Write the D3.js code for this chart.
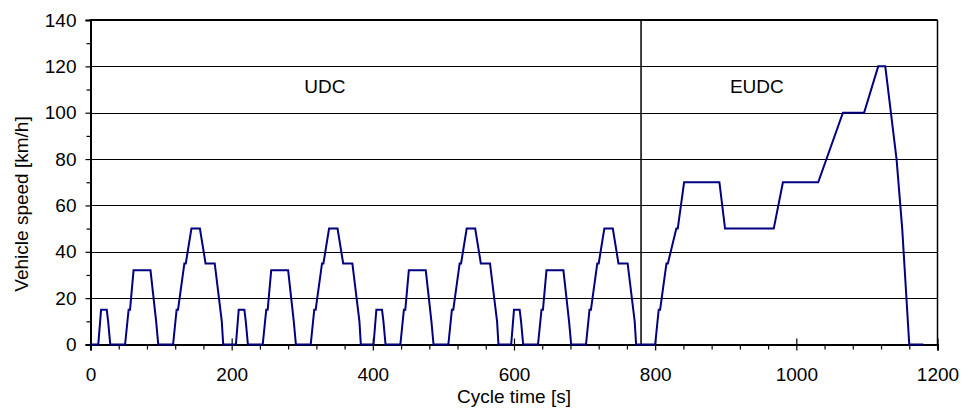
<!DOCTYPE html>
<html>
<head>
<meta charset="utf-8">
<script src="https://cdn.jsdelivr.net/npm/d3@7"></script>
<style>
  body { margin: 0; background: #fff; }
  svg text { font-family: "Liberation Sans", Arial, sans-serif; fill: #000; }
</style>
</head>
<body>
<svg id="chart"></svg>
<script>
// NEDC speed trace, breakpoints (s, km/h)
let times = [
  0, 11, 15, 23, 25, 28, 49, 54, 56, 61, 85, 93, 96, 117, 122, 124, 133, 135, 143, 155, 163, 176, 186, 188,
  195, 206, 210, 218, 220, 223, 244, 249, 251, 256, 280, 288, 291, 312, 317, 319, 328, 330, 338, 350, 358, 371, 381, 383,
  390, 401, 405, 413, 415, 418, 439, 444, 446, 451, 475, 483, 486, 507, 512, 514, 523, 525, 533, 545, 553, 566, 576, 578,
  585, 596, 600, 608, 610, 613, 634, 639, 641, 646, 670, 678, 681, 702, 707, 709, 718, 720, 728, 740, 748, 761, 771, 773,
  780, 800, 805, 807, 816, 818, 830, 832, 841, 891, 899, 968, 981, 1031, 1066, 1096, 1116, 1126, 1142, 1150, 1160, 1180
]
let speeds = [
  0, 0, 15, 15, 10, 0, 0, 15, 15, 32, 32, 10, 0, 0, 15, 15, 35, 35, 50, 50, 35, 35, 10, 0,
  0, 0, 15, 15, 10, 0, 0, 15, 15, 32, 32, 10, 0, 0, 15, 15, 35, 35, 50, 50, 35, 35, 10, 0,
  0, 0, 15, 15, 10, 0, 0, 15, 15, 32, 32, 10, 0, 0, 15, 15, 35, 35, 50, 50, 35, 35, 10, 0,
  0, 0, 15, 15, 10, 0, 0, 15, 15, 32, 32, 10, 0, 0, 15, 15, 35, 35, 50, 50, 35, 35, 10, 0,
  0, 0, 15, 15, 35, 35, 50, 50, 70, 70, 50, 50, 70, 70, 100, 100, 120, 120, 80, 50, 0, 0
]

let xTicks = [0, 200, 400, 600, 800, 1000, 1200]
let xMinor = [40, 80, 120, 160, 240, 280, 320, 360, 440, 480, 520, 560, 640, 680, 720, 760, 840, 880, 920, 960, 1040, 1080, 1120, 1160]
let yTicks = [0, 20, 40, 60, 80, 100, 120, 140]
let yMinor = [10, 30, 50, 70, 90, 110, 130]

let phaseSplit = 780
let phaseLabels = ['UDC', 'EUDC']
let phaseLabelPos = [332, 944]    // seconds (centre of label)
let phaseLabelSpeed = 108.5       // km/h (baseline)

let width = 968
let height = 411
let pLeft = 90.5, pRight = 937.5, pTop = 20, pBottom = 344.5

let svg = d3.select('#chart').attr('width', width).attr('height', height)

let xScale = d3.scaleLinear().domain([0, 1200]).range([pLeft, pRight])
let yScale = d3.scaleLinear().domain([0, 140]).range([pBottom, pTop])

// horizontal grid lines
svg.append('g')
  .selectAll('line')
  .data(yTicks.filter(d => d > 0 && d < 140))
  .enter()
  .append('line')
  .attr('x1', pLeft).attr('x2', pRight)
  .attr('y1', d => Math.round(yScale(d)) + 0.5)
  .attr('y2', d => Math.round(yScale(d)) + 0.5)
  .attr('stroke', '#000').attr('stroke-width', 1)

// frame top + right
svg.append('line').attr('x1', pLeft - 1).attr('x2', pRight).attr('y1', pTop).attr('y2', pTop)
  .attr('stroke', '#000').attr('stroke-width', 2)
svg.append('line').attr('x1', pRight).attr('x2', pRight).attr('y1', pTop).attr('y2', pBottom)
  .attr('stroke', '#000').attr('stroke-width', 1.5)

// UDC / EUDC split
svg.append('line')
  .attr('x1', xScale(phaseSplit)).attr('x2', xScale(phaseSplit))
  .attr('y1', pTop).attr('y2', pBottom)
  .attr('stroke', '#000').attr('stroke-width', 1.5)

svg.selectAll('.phase')
  .data(phaseLabels)
  .enter()
  .append('text')
  .attr('class', 'phase')
  .attr('x', (d, i) => xScale(phaseLabelPos[i]))
  .attr('y', yScale(phaseLabelSpeed))
  .attr('text-anchor', 'middle')
  .style('font-size', '19px')
  .text(d => d)

// axes
let yAxis = d3.axisLeft(yScale).tickValues(yTicks).tickSize(5).tickPadding(9)
  .tickFormat(d3.format('d'))
let gy = svg.append('g').attr('transform', `translate(${pLeft},0)`).call(yAxis)
gy.selectAll('text').style('font-size', '19px')

let yAxisMinor = d3.axisLeft(yScale).tickValues(yMinor).tickSize(4).tickFormat('')
svg.append('g').attr('transform', `translate(${pLeft},0)`).call(yAxisMinor)
  .select('.domain').remove()

let xAxis = d3.axisBottom(xScale).tickValues(xTicks).tickSize(6).tickPadding(17)
  .tickFormat(d3.format('d')) // no thousands comma
let gx = svg.append('g').attr('transform', `translate(0,${pBottom})`).call(xAxis)
gx.selectAll('.tick line').attr('y1', -6)
gx.selectAll('text').style('font-size', '19px')

let xAxisMinor = d3.axisBottom(xScale).tickValues(xMinor).tickSize(5).tickFormat('')
svg.append('g').attr('transform', `translate(0,${pBottom})`).call(xAxisMinor)
  .select('.domain').remove()

svg.selectAll('.domain').attr('stroke-width', 2)
svg.selectAll('.tick line').attr('stroke-width', 1.2)

// speed trace
let points = times.map((t, i) => [t, speeds[i]])
let line = d3.line()
  .x(d => xScale(d[0]))
  .y(d => yScale(d[1]))

svg.append('path')
  .datum(points)
  .attr('d', line)
  .attr('fill', 'none')
  .attr('stroke', '#000080')
  .attr('stroke-width', 2)
  .attr('stroke-linejoin', 'miter')

// axis titles
svg.append('text')
  .attr('x', (pLeft + pRight) / 2)
  .attr('y', 403)
  .attr('text-anchor', 'middle')
  .style('font-size', '19px')
  .text('Cycle time [s]')

svg.append('text')
  .attr('transform', 'translate(28,204) rotate(-90)')
  .attr('text-anchor', 'middle')
  .style('font-size', '19px')
  .text('Vehicle speed [km/h]')
</script>
</body>
</html>
